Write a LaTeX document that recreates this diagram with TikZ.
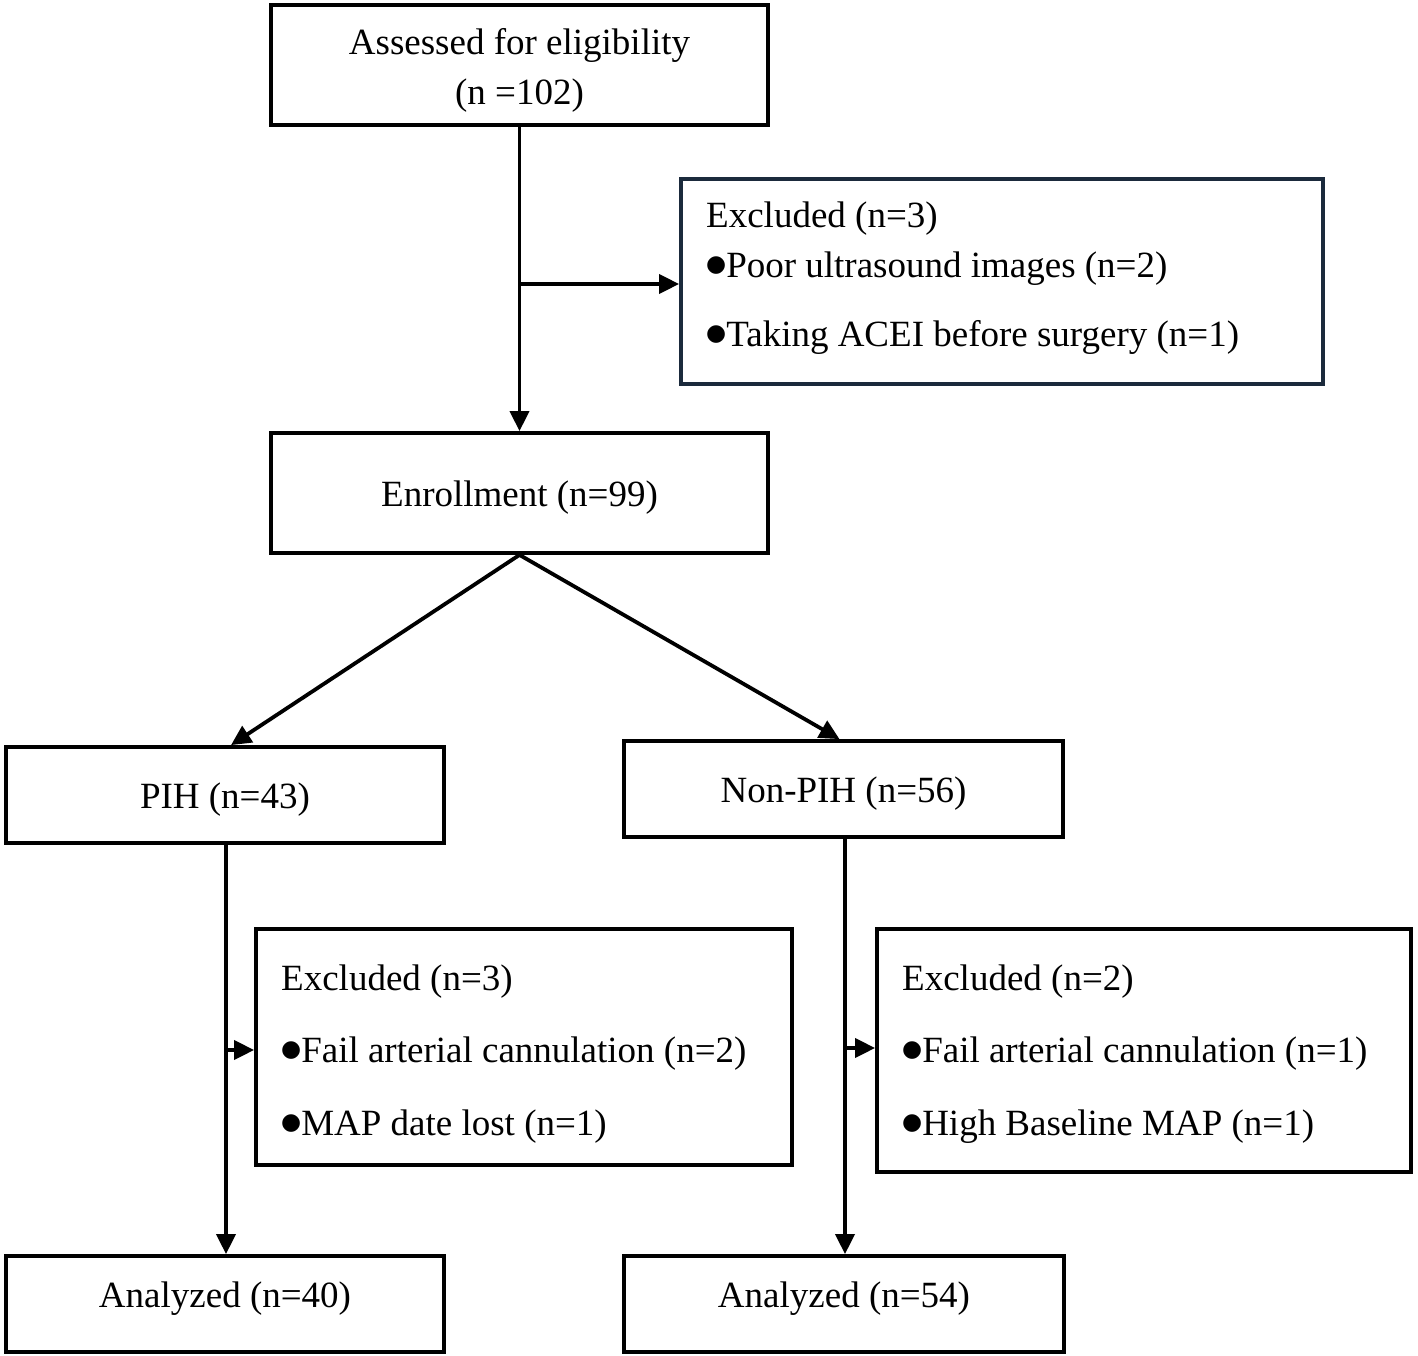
\documentclass[tikz,border=0pt]{standalone}
\usepackage{fontspec}
\setmainfont{Liberation Serif}
\newfontfamily\djv{DejaVu Sans}
\usetikzlibrary{arrows.meta}
\definecolor{navy}{HTML}{1B2A3C}
\newcommand{\bul}{{\djv\fontsize{23}{23}\selectfont\raisebox{5.5pt}{●}}}
\begin{document}
\begin{tikzpicture}[x=1pt,y=-1pt,
  box/.style={draw=black,line width=3.8pt,inner sep=0pt},
  arr/.style={line width=3.8pt,-{Triangle[length=20pt,width=19pt]}},
  txt/.style={font=\fontsize{37}{42}\selectfont,inner sep=0pt,anchor=base west},
  ctxt/.style={font=\fontsize{37}{42}\selectfont,inner sep=0pt,anchor=base}]
\useasboundingbox (0,0) rectangle (1418,1356);
% boxes
\node[box,minimum width=497pt,minimum height=120pt] (assess) at (519.5,65) {};
\node[box,draw=navy,minimum width=642pt,minimum height=205pt] (excl1) at (1002,281.5) {};
\node[box,minimum width=497pt,minimum height=120pt] (enroll) at (519.5,493) {};
\node[box,minimum width=438pt,minimum height=96pt] (pih) at (225,795) {};
\node[box,minimum width=439pt,minimum height=96pt] (npih) at (843.5,789) {};
\node[box,minimum width=536pt,minimum height=236pt] (excl2) at (524,1047) {};
\node[box,minimum width=534pt,minimum height=243pt] (excl3) at (1144,1050.5) {};
\node[box,minimum width=438pt,minimum height=96pt] (an1) at (225,1304) {};
\node[box,minimum width=440pt,minimum height=96pt] (an2) at (844,1304) {};
% texts
\node[ctxt] (t1a) at (519.5,55) {Assessed for eligibility};
\node[ctxt] (t1b) at (519.5,105) {(n =102)};
\node[txt] (t2a) at (706,228) {Excluded (n=3)};
\node[txt] (t2b) at (706,277) {\bul Poor ultrasound images (n=2)};
\node[txt] (t2c) at (706,346) {\bul Taking ACEI before surgery (n=1)};
\node[ctxt] (t3) at (519.5,506) {Enrollment (n=99)};
\node[ctxt] (t4) at (225,808) {PIH (n=43)};
\node[ctxt] (t5) at (843.5,802) {Non-PIH (n=56)};
\node[txt] (t6a) at (281,990) {Excluded (n=3)};
\node[txt] (t6b) at (281,1062) {\bul Fail arterial cannulation (n=2)};
\node[txt] (t6c) at (281,1135) {\bul MAP date lost (n=1)};
\node[txt] (t7a) at (902,990) {Excluded (n=2)};
\node[txt] (t7b) at (902,1062) {\bul Fail arterial cannulation (n=1)};
\node[txt] (t7c) at (902,1135) {\bul High Baseline MAP (n=1)};
\node[ctxt] (t8) at (225,1307) {Analyzed (n=40)};
\node[ctxt] (t9) at (844,1307) {Analyzed (n=54)};
% connectors
\coordinate (b1) at (520,284);
\coordinate (b2) at (226,1050);
\coordinate (b3) at (845,1048);
\draw[arr] (assess.south) -- (enroll.north);
\draw[arr] (b1) -- (excl1.west |- b1);
\draw[arr] (enroll.south) -- ([xshift=6pt]pih.north);
\draw[arr] (enroll.south) -- ([xshift=-4pt]npih.north);
\draw[arr] (pih.south -| b2) -- (an1.north -| b2);
\draw[arr] (b2) -- (excl2.west |- b2);
\draw[arr] (npih.south -| b3) -- (an2.north -| b3);
\draw[arr] (b3) -- (excl3.west |- b3);
\end{tikzpicture}
\end{document}
